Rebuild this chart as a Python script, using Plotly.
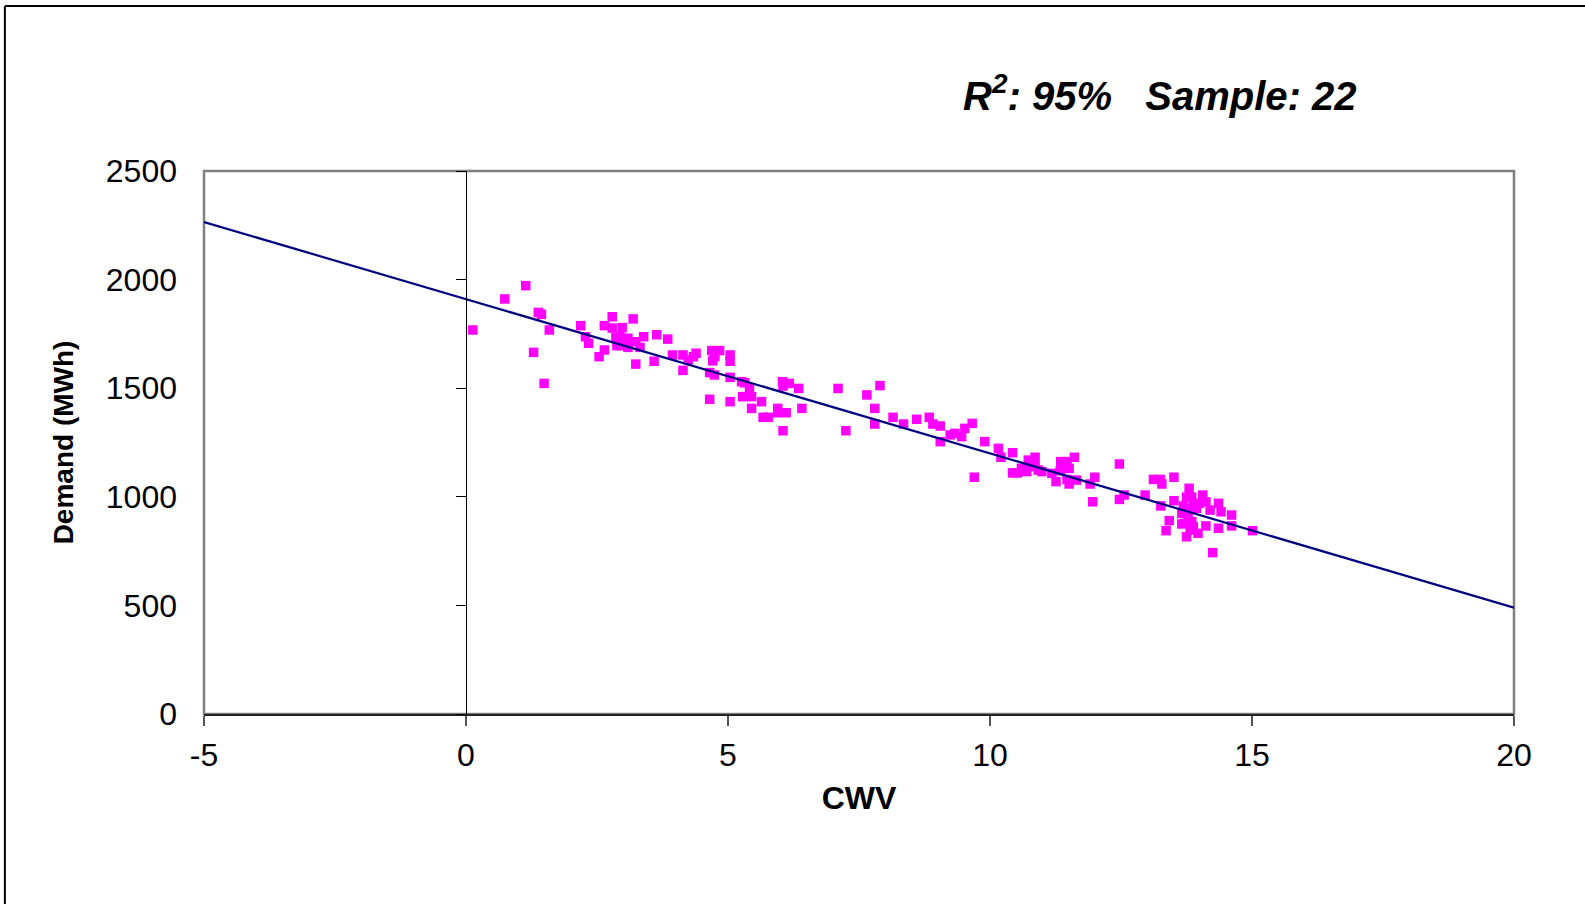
import plotly.graph_objects as go

# Observations: CWV vs Demand (MWh)
cwv = [0.13, 0.74, 1.14, 1.38, 1.44, 1.59, 1.29, 1.49, 2.19, 2.28, 2.34, 2.54, 2.64, 2.64, 2.79, 2.79,
       2.98, 2.86, 2.94, 2.88, 2.97, 3.09, 3.09, 3.19, 3.24, 3.32, 3.39, 3.24, 3.59, 3.64, 3.85, 3.94,
       4.14, 4.14, 4.24, 4.39, 4.34, 4.69, 4.84, 4.71, 4.75, 5.04, 5.04, 4.65, 4.74, 5.04, 4.65, 5.04,
       5.26, 5.32, 5.41, 5.28, 5.45, 5.64, 5.45, 5.67, 5.77, 5.95, 5.95, 6.11, 6.04, 6.05, 6.17, 6.35,
       6.41, 6.05, 7.10, 7.25, 7.65, 7.90, 7.80, 7.80, 8.15, 8.35, 8.60, 8.84, 8.91, 9.05, 9.05, 9.24,
       9.33, 9.46, 9.52, 9.66, 9.90, 10.16, 10.21, 10.43, 9.70, 10.43, 10.52,
       10.60, 10.73, 10.86, 10.70, 10.76, 10.86, 10.92, 10.99, 11.18, 11.26, 11.34, 11.35, 11.47, 11.51,
       11.61, 11.47, 11.51, 11.65, 11.91, 12.00, 11.96, 12.47, 12.56, 12.47, 12.96, 13.12, 13.25, 13.28,
       13.51, 13.26, 13.42, 13.36, 13.51,
       13.80, 13.75, 13.85, 13.69, 13.78, 13.88, 13.94, 13.66, 13.78, 13.72, 13.85, 13.66, 13.82, 13.75,
       13.97, 13.88,
       14.06, 14.12, 14.00, 14.20, 14.12, 14.36, 14.41, 14.36, 14.61, 14.61, 15.01, 14.25]
demand = [1768, 1911, 1972, 1849, 1840, 1768, 1665, 1522, 1788, 1737, 1707, 1645, 1676, 1788, 1829, 1777,
          1779, 1734, 1737, 1696, 1696, 1730, 1688, 1819, 1714, 1688, 1737, 1611, 1624, 1746, 1726, 1653,
          1653, 1582, 1630, 1661, 1645, 1673, 1673, 1626, 1645, 1653, 1624, 1572, 1561, 1550, 1449, 1438,
          1530, 1525, 1499, 1461, 1461, 1438, 1407, 1366, 1366, 1407, 1387, 1387, 1530, 1510, 1522, 1499,
          1407, 1304, 1499, 1304, 1469, 1512, 1407, 1335, 1366, 1335, 1357, 1366, 1335, 1326, 1254, 1285,
          1292, 1277, 1315, 1338, 1254, 1223, 1182, 1203, 1090, 1110, 1110,
          1131, 1169, 1182, 1116, 1139, 1146, 1123, 1116, 1108, 1070, 1120, 1162, 1162, 1131,
          1182, 1080, 1059, 1077, 1059, 1090, 977, 1151, 1008, 988, 1008, 1080, 1080, 1059,
          1090, 958, 890, 844, 982,
          1039, 998, 998, 958, 947, 962, 947, 924, 909, 878, 886, 875, 847, 816,
          832, 862,
          1008, 977, 970, 939, 866, 970, 931, 855, 916, 866, 844, 743]

# Trend line (linear fit)
fit_intercept = 1910.0
fit_slope = -71.0
fit_x = [-5, 20]
fit_y = [fit_intercept + fit_slope * x for x in fit_x]

x_ticks = [-5, 0, 5, 10, 15, 20]
y_ticks = [0, 500, 1000, 1500, 2000, 2500]

annotation_text = "<b><i>R<sup>2</sup>: 95%   Sample: 22</i></b>"

FONT = "Liberation Sans, Arial, sans-serif"

fig = go.Figure()
fig.add_trace(go.Scatter(
    x=cwv, y=demand, mode="markers",
    marker=dict(symbol="square", size=9.5, color="#FF00FF", line=dict(width=0)),
    showlegend=False, hoverinfo="x+y"))
fig.add_trace(go.Scatter(
    x=fit_x, y=fit_y, mode="lines", yaxis="y2",
    line=dict(color="#000080", width=2.2), showlegend=False))

fig.update_layout(
    width=1585, height=904,
    margin=dict(l=204, r=71, t=171, b=190),
    paper_bgcolor="white", plot_bgcolor="white",
    font=dict(family=FONT, color="black", size=32),
    xaxis=dict(
        range=[-5, 20], tickvals=x_ticks, ticktext=[str(v) for v in x_ticks],
        showgrid=False, zeroline=False,
        showline=True, linecolor="#222", linewidth=1.5,
        ticks="outside", ticklen=10, tickcolor="#555", tickwidth=1.5,
        ticklabelstandoff=2,
        tickfont=dict(size=32),
        title=dict(text="<b>CWV</b>", font=dict(size=32), standoff=14),
    ),
    yaxis=dict(
        range=[0, 2500], tickvals=y_ticks, ticktext=[str(v) for v in y_ticks],
        showgrid=False, zeroline=False, showline=False,
        ticks="", ticklabelstandoff=26,
        tickfont=dict(size=32),
        title=dict(text="<b>Demand (MWh)</b>", font=dict(size=28), standoff=24),
    ),
    yaxis2=dict(
        overlaying="y", anchor="free", position=0.2, matches="y",
        range=[0, 2500], tickvals=y_ticks, showticklabels=False,
        showgrid=False, zeroline=False,
        showline=True, linecolor="black", linewidth=1,
        ticks="outside", ticklen=10, tickcolor="black", tickwidth=1,
    ),
    shapes=[
        dict(type="rect", xref="paper", yref="paper", x0=0, x1=1, y0=0, y1=1,
             line=dict(color="#808080", width=2.5), layer="below"),
        dict(type="line", xref="paper", yref="paper", x0=-0.152, x1=1.07, y0=1.304, y1=1.304,
             line=dict(color="black", width=2)),
        dict(type="line", xref="paper", yref="paper", x0=-0.152, x1=-0.152, y0=1.304, y1=-0.4,
             line=dict(color="black", width=2)),
    ],
    annotations=[
        dict(text=annotation_text, xref="paper", yref="paper",
             x=(1148 * 1585 / 1568 - 204) / 1310, y=(714 - 93) / 543,
             xanchor="center", yanchor="middle", showarrow=False,
             font=dict(size=40, family=FONT, color="black")),
    ],
)

fig.write_html("out.html")
